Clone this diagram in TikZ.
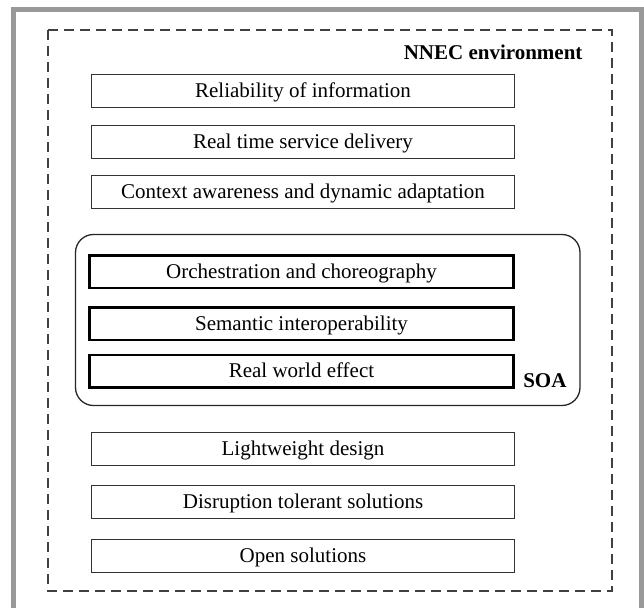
\documentclass[tikz,border=0pt]{standalone}
\usepackage{fontspec}
\setmainfont{Liberation Serif}
\usetikzlibrary{calc}

\begin{document}
\begin{tikzpicture}[x=1pt, y=-1pt,
  layer/.style={draw=black!80, line width=1.2pt, minimum width=423pt, minimum height=33pt,
    inner sep=0pt, text height=13pt, text depth=0pt,
    font=\fontsize{21}{24}\selectfont},
  soalayer/.style={layer, draw=black, line width=2.5pt, minimum width=424pt, minimum height=32.5pt}]
\useasboundingbox (0,0) rectangle (644,607);
% grey frame, open at the bottom
\draw[black!40, line width=5pt] (13.5,620) |- (641.5,9.5) -- (641.5,620);
% NNEC environment
\draw[black!75, line width=1.3pt, dash pattern=on 10pt off 6pt] (48,30) rectangle (612,591);
\node[anchor=base east, font=\bfseries\fontsize{21}{24}\selectfont] (nnec) at (586,60) {NNEC environment};
% SOA
\draw[black!85, line width=1.3pt, rounded corners=18pt] (75.5,234.5) rectangle (580,405.5);
\node[anchor=base east, font=\bfseries\fontsize{21}{24}\selectfont] (soa) at (570,387) {SOA};
\foreach \y/\t/\n in {91/Reliability of information/rel,
                      142/Real time service delivery/rts,
                      192/Context awareness and dynamic adaptation/ctx,
                      449/Lightweight design/lwd,
                      502/Disruption tolerant solutions/dts,
                      556/Open solutions/ops} {
 \node[layer] (\n) at (303,\y) {\t};
}
\foreach \y/\t/\n in {271.5/Orchestration and choreography/orc,
                      323.5/Semantic interoperability/sem,
                      371/Real world effect/rwe} {
 \node[soalayer] (\n) at (301.5,\y) {\t};
}
\end{tikzpicture}
\end{document}
